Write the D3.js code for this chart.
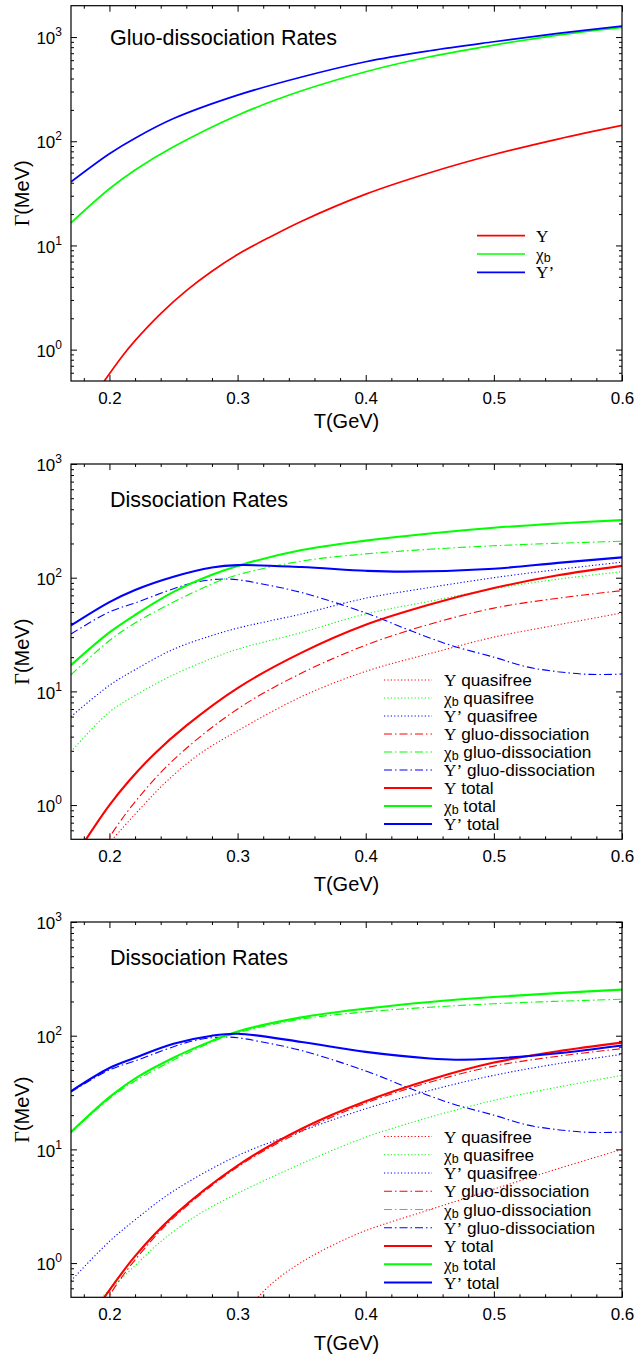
<!DOCTYPE html>
<html><head><meta charset="utf-8">
<script src="https://cdn.jsdelivr.net/npm/d3@7"></script>
<style>body{margin:0;background:#fff}svg{display:block}</style>
</head><body>
<svg id="chart" width="639" height="1355"></svg>
<script>
// ---------- data (T in GeV, Gamma in MeV) ----------
const xTicks = [0.2, 0.3, 0.4, 0.5, 0.6];
const yDecades = [1, 10, 100, 1000];
const panelTitles = ["Gluo-dissociation Rates", "Dissociation Rates", "Dissociation Rates"];

// Panel 1: gluo-dissociation rates
const p1_Y    = [[0.19,0.39],[0.196,0.5],[0.21,0.865],[0.22,1.22],[0.24,2.22],[0.26,3.69],[0.28,5.66],[0.3,8.18],[0.325,12.0],[0.35,17.1],[0.4,31.1],[0.45,49.9],[0.5,74.6],[0.55,105],[0.6,142]];
const p1_chi  = [[0.17,16.5],[0.2,35],[0.22,53],[0.25,88.5],[0.3,178],[0.35,305],[0.4,465],[0.45,647],[0.5,838],[0.55,1045],[0.6,1240]];
const p1_Yp   = [[0.17,40.8],[0.2,76],[0.22,107],[0.25,165],[0.3,277],[0.35,414],[0.4,580],[0.45,739],[0.5,901],[0.55,1084],[0.6,1276]];

// gluo-dissociation (panels 2 and 3)
const gluo_Y   = [[0.19,0.33],[0.199,0.5],[0.218,1.0],[0.25,2.5],[0.3,7.0],[0.35,14.5],[0.4,25.5],[0.45,39],[0.5,54],[0.55,66],[0.6,77]];
const gluo_chi = [[0.17,14],[0.2,28],[0.22,40],[0.25,61],[0.28,88],[0.3,106],[0.35,140],[0.4,162],[0.45,178],[0.5,191],[0.55,201],[0.6,209]];
const gluo_Yp  = [[0.17,32],[0.2,50],[0.22,60],[0.25,80],[0.265,90],[0.28,96],[0.29,97.5],[0.3,96],[0.317,89],[0.35,74],[0.4,49],[0.43,36],[0.45,29.5],[0.47,24.7],[0.5,20],[0.525,16.5],[0.55,14.9],[0.575,14.1],[0.6,14.2]];

// Panel 2: quasifree and total
const qf2_Y   = [[0.195,0.4],[0.2024,0.5],[0.2266,1.0],[0.2457,1.66],[0.27,2.8],[0.3,4.5],[0.35,9],[0.4,15],[0.45,21.5],[0.5,30],[0.55,38.5],[0.6,49]];
const qf2_chi = [[0.17,2.95],[0.2,6.6],[0.22,9.2],[0.25,14],[0.28,19.5],[0.3,23.5],[0.35,33],[0.4,48],[0.45,62],[0.5,80],[0.55,97],[0.6,113]];
const qf2_Yp  = [[0.17,6.0],[0.2,11.3],[0.22,15.5],[0.25,23.5],[0.28,31],[0.3,36],[0.35,48],[0.4,66],[0.45,82],[0.5,100],[0.55,118],[0.6,137]];
const tot2_Y   = [[0.175,0.38],[0.1817,0.5],[0.2,1.0],[0.215,1.62],[0.235,2.82],[0.26,5.0],[0.3,10.7],[0.35,21.9],[0.4,38.5],[0.45,58],[0.5,81],[0.55,105],[0.6,127]];
const tot2_chi = [[0.17,17],[0.2,33],[0.22,47],[0.25,75],[0.28,106],[0.3,127],[0.35,175],[0.4,212],[0.45,245],[0.5,275],[0.55,300],[0.6,321]];
const tot2_Yp  = [[0.17,38],[0.2,61],[0.22,78],[0.25,102],[0.28,123],[0.3,129],[0.35,124],[0.4,115],[0.43,113],[0.5,120],[0.55,135],[0.6,151]];

// Panel 3: quasifree and total
const qf3_Y   = [[0.31,0.4],[0.316,0.5],[0.33,0.71],[0.35,1.02],[0.375,1.45],[0.4,1.93],[0.45,2.95],[0.5,4.47],[0.55,6.76],[0.6,10]];
const qf3_chi = [[0.188,0.43],[0.194,0.5],[0.22,0.95],[0.241,1.58],[0.27,2.7],[0.3,4.1],[0.35,7.5],[0.4,12.8],[0.45,19.2],[0.5,27],[0.55,35.3],[0.6,44.8]];
const qf3_Yp  = [[0.17,0.7],[0.2,1.55],[0.22,2.4],[0.25,4.3],[0.3,8.8],[0.35,14.5],[0.4,22.8],[0.45,33],[0.5,44.8],[0.55,56.7],[0.6,68.5]];
const tot3_Y   = [[0.19,0.4],[0.196,0.5],[0.22,1.15],[0.25,2.6],[0.3,7.2],[0.35,15.2],[0.4,26.5],[0.45,41],[0.5,58],[0.55,73],[0.6,87]];
const tot3_chi = [[0.17,14.2],[0.2,28.8],[0.22,42],[0.25,64],[0.28,90],[0.3,109],[0.35,145],[0.4,173],[0.45,198],[0.5,219],[0.55,237],[0.6,254]];
const tot3_Yp  = [[0.17,32.5],[0.2,52],[0.22,64],[0.25,85],[0.28,100],[0.3,104],[0.35,88],[0.4,72],[0.45,63],[0.47,61.5],[0.5,63],[0.55,70],[0.6,82]];

// ---------- drawing ----------
const RED = "#ff0000", GREEN = "#00ff00", BLUE = "#0000ff";
const DOT = "1.2,2.2", DASHDOT = "8,3,1.5,3";
const SANS = "'Liberation Sans', Arial, Helvetica, sans-serif";
const SERIF = "'Liberation Serif', 'Times New Roman', serif";
const svg = d3.select("#chart");
svg.append("rect").attr("width", 639).attr("height", 1355).attr("fill", "#fff");

const L = 71, R = 622;
const xDomain = [0.17, 0.6];

const names = {
  Y:   {sym: "\u03A5", sub: null},
  chi: {sym: "\u03C7", sub: "b"},
  Yp:  {sym: "\u03A5\u2019", sub: null}
};

const panels = [
  { id: 1, top: 5.7, bottom: 381, yDomain: [0.5, 2000], titleY: 45, xlabY: 428,
    legend: {x1: 477, x2: 525, tx: 536, y0: 235.7, dy: 18.3},
    series: [
      {data: p1_Y,   color: RED,   w: 1.7, dash: null, key: "Y",   label: ""},
      {data: p1_chi, color: GREEN, w: 1.7, dash: null, key: "chi", label: ""},
      {data: p1_Yp,  color: BLUE,  w: 1.7, dash: null, key: "Yp",  label: ""}
    ]},
  { id: 2, top: 464, bottom: 839.3, yDomain: [0.5, 1000], titleY: 506.5, xlabY: 891,
    legend: {x1: 384, x2: 432, tx: 444, y0: 680, dy: 18},
    series: [
      {data: qf2_Y,    color: RED,   w: 1.1, dash: DOT,     key: "Y",   label: " quasifree"},
      {data: qf2_chi,  color: GREEN, w: 1.1, dash: DOT,     key: "chi", label: " quasifree"},
      {data: qf2_Yp,   color: BLUE,  w: 1.1, dash: DOT,     key: "Yp",  label: " quasifree"},
      {data: gluo_Y,   color: RED,   w: 1.1, dash: DASHDOT, key: "Y",   label: " gluo-dissociation"},
      {data: gluo_chi, color: GREEN, w: 1.1, dash: DASHDOT, key: "chi", label: " gluo-dissociation"},
      {data: gluo_Yp,  color: BLUE,  w: 1.1, dash: DASHDOT, key: "Yp",  label: " gluo-dissociation"},
      {data: tot2_Y,   color: RED,   w: 2.1, dash: null,    key: "Y",   label: " total"},
      {data: tot2_chi, color: GREEN, w: 2.1, dash: null,    key: "chi", label: " total"},
      {data: tot2_Yp,  color: BLUE,  w: 2.1, dash: null,    key: "Yp",  label: " total"}
    ]},
  { id: 3, top: 922, bottom: 1297.3, yDomain: [0.5, 1000], titleY: 965, xlabY: 1350,
    legend: {x1: 384, x2: 432, tx: 444, y0: 1136.5, dy: 18.25},
    series: [
      {data: qf3_Y,    color: RED,   w: 1.1, dash: DOT,     key: "Y",   label: " quasifree"},
      {data: qf3_chi,  color: GREEN, w: 1.1, dash: DOT,     key: "chi", label: " quasifree"},
      {data: qf3_Yp,   color: BLUE,  w: 1.1, dash: DOT,     key: "Yp",  label: " quasifree"},
      {data: gluo_Y,   color: RED,   w: 1.1, dash: DASHDOT, key: "Y",   label: " gluo-dissociation"},
      {data: gluo_chi, color: GREEN, w: 1.1, dash: DASHDOT, key: "chi", label: " gluo-dissociation"},
      {data: gluo_Yp,  color: BLUE,  w: 1.1, dash: DASHDOT, key: "Yp",  label: " gluo-dissociation"},
      {data: tot3_Y,   color: RED,   w: 2.1, dash: null,    key: "Y",   label: " total"},
      {data: tot3_chi, color: GREEN, w: 2.1, dash: null,    key: "chi", label: " total"},
      {data: tot3_Yp,  color: BLUE,  w: 2.1, dash: null,    key: "Yp",  label: " total"}
    ]}
];

function writeName(text, key, rest, fs) {
  const n = names[key];
  text.append("tspan").attr("font-family", SERIF).text(n.sym);
  if (n.sub) {
    text.append("tspan").attr("font-family", SANS).attr("font-size", 12.5).attr("dy", 2).text(n.sub);
    if (rest) text.append("tspan").attr("font-family", SANS).attr("dy", -2).text(rest);
  } else if (rest) {
    text.append("tspan").attr("font-family", SANS).text(rest);
  }
}

function drawPanel(p, i) {
  const x = d3.scaleLinear().domain(xDomain).range([L, R]);
  const y = d3.scaleLog().domain(p.yDomain).range([p.bottom, p.top]);
  const g = svg.append("g");
  const clipId = "clip" + p.id;
  svg.append("clipPath").attr("id", clipId).append("rect")
    .attr("x", L).attr("y", p.top).attr("width", R - L).attr("height", p.bottom - p.top);

  const xMinor = d3.range(0.18, 0.6001, 0.02).map(v => +v.toFixed(2)).filter(v => !xTicks.some(t => Math.abs(t - v) < 1e-6));
  const yMinor = [];
  for (let e = -1; e <= 3; e++) for (let k = 2; k <= 9; k++) {
    const v = k * Math.pow(10, e);
    if (v > p.yDomain[0] * 1.0001 && v < p.yDomain[1] * 0.9999) yMinor.push(v);
  }
  const yMajor = yDecades.filter(v => v >= p.yDomain[0] && v <= p.yDomain[1]);

  const axStyle = sel => { sel.select(".domain").remove(); sel.selectAll("line").attr("stroke", "#000").attr("stroke-width", 1); };

  g.append("g").attr("transform", `translate(0,${p.bottom})`)
    .call(d3.axisBottom(x).tickValues(xTicks).tickSize(-6).tickPadding(11).tickFormat(d3.format(".1f")))
    .call(axStyle)
    .call(s => s.selectAll("text").attr("font-family", SANS).attr("font-size", 17).attr("fill", "#000"));
  g.append("g").attr("transform", `translate(0,${p.bottom})`)
    .call(d3.axisBottom(x).tickValues(xMinor).tickSize(-3).tickFormat("")).call(axStyle);
  g.append("g").attr("transform", `translate(0,${p.top})`)
    .call(d3.axisTop(x).tickValues(xTicks).tickSize(-6).tickFormat("")).call(axStyle);
  g.append("g").attr("transform", `translate(0,${p.top})`)
    .call(d3.axisTop(x).tickValues(xMinor).tickSize(-3).tickFormat("")).call(axStyle);
  const left = g.append("g").attr("transform", `translate(${L},0)`)
    .call(d3.axisLeft(y).tickValues(yMajor).tickSize(-6).tickPadding(9).tickFormat(""))
    .call(axStyle);
  left.selectAll(".tick text").each(function(d) {
    const t = d3.select(this).attr("font-family", SANS).attr("font-size", 17).attr("fill", "#000").attr("dy", "0.39em");
    t.text("");
    t.append("tspan").text("10");
    t.append("tspan").attr("font-size", 12).attr("dy", -8).text(String(Math.round(Math.log10(d))));
  });
  g.append("g").attr("transform", `translate(${L},0)`)
    .call(d3.axisLeft(y).tickValues(yMinor).tickSize(-3).tickFormat("")).call(axStyle);
  g.append("g").attr("transform", `translate(${R},0)`)
    .call(d3.axisRight(y).tickValues(yMajor).tickSize(-6).tickFormat("")).call(axStyle);
  g.append("g").attr("transform", `translate(${R},0)`)
    .call(d3.axisRight(y).tickValues(yMinor).tickSize(-3).tickFormat("")).call(axStyle);

  const line = d3.line().x(d => x(d[0])).y(d => y(d[1])).curve(d3.curveCatmullRom.alpha(0.5));
  const cg = g.append("g").attr("clip-path", `url(#${clipId})`);
  p.series.forEach(s => {
    cg.append("path").attr("d", line(s.data)).attr("fill", "none")
      .attr("stroke", s.color).attr("stroke-width", s.w)
      .attr("stroke-dasharray", s.dash).attr("stroke-linejoin", "round");
  });

  g.append("rect").attr("x", L).attr("y", p.top).attr("width", R - L).attr("height", p.bottom - p.top)
    .attr("fill", "none").attr("stroke", "#000").attr("stroke-width", 1.2);

  g.append("text").attr("x", 110).attr("y", p.titleY).attr("font-family", SANS).attr("font-size", 21.5)
    .attr("fill", "#000").text(panelTitles[i]);

  g.append("text").attr("x", (L + R) / 2).attr("y", p.xlabY).attr("text-anchor", "middle")
    .attr("font-family", SANS).attr("font-size", 20).attr("fill", "#000").text("T(GeV)");
  const yl = g.append("text").attr("transform", `translate(29,${(p.top + p.bottom) / 2}) rotate(-90)`)
    .attr("text-anchor", "middle").attr("font-size", 20).attr("fill", "#000");
  yl.append("tspan").attr("font-family", SERIF).text("\u0393");
  yl.append("tspan").attr("font-family", SANS).text("(MeV)");

  const lg = g.append("g");
  p.series.forEach((s, k) => {
    const yy = p.legend.y0 + k * p.legend.dy;
    lg.append("line").attr("x1", p.legend.x1).attr("x2", p.legend.x2).attr("y1", yy).attr("y2", yy)
      .attr("stroke", s.color).attr("stroke-width", s.w).attr("stroke-dasharray", s.dash);
    const t = lg.append("text").attr("x", p.legend.tx).attr("y", yy + 6).attr("font-size", 17.2).attr("fill", "#000");
    writeName(t, s.key, s.label, 17.2);
  });
}

panels.forEach(drawPanel);
</script>
</body></html>
